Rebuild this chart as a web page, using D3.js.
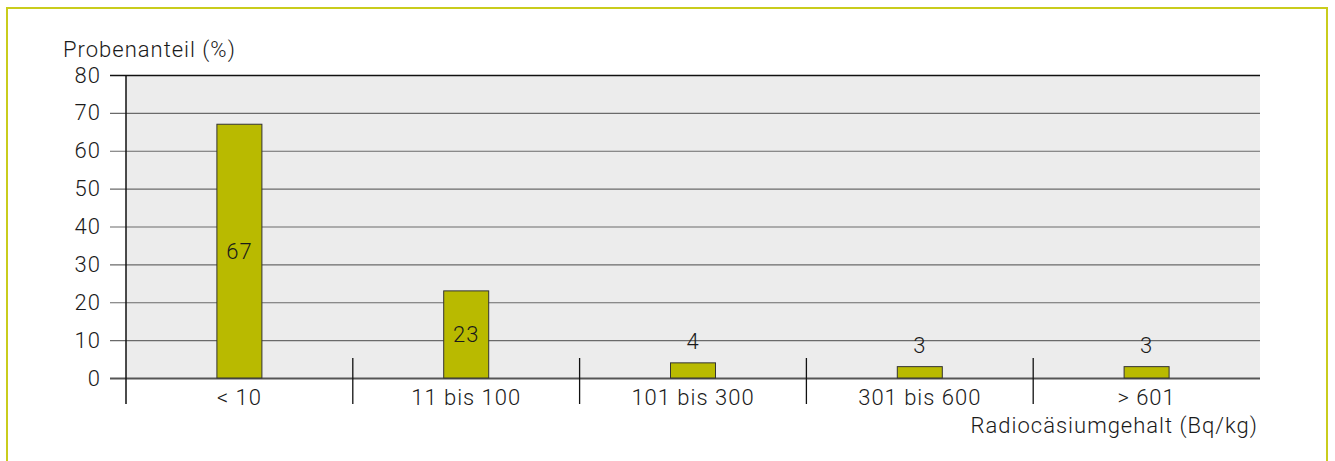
<!DOCTYPE html>
<html><head><meta charset="utf-8">
<script src="https://cdn.jsdelivr.net/npm/d3@7"></script>
<style>
html,body{margin:0;padding:0;background:#fff;}
text{font-family:Roboto,"Liberation Sans",Arial,sans-serif;font-weight:300;fill:#1a1a1a;letter-spacing:1px;}
</style></head>
<body><svg id="c" width="1335" height="461"></svg>
<script>
const categories = ["< 10", "11 bis 100", "101 bis 300", "301 bis 600", "> 601"];
const values = [67, 23, 4, 3, 3];
const yTicks = [0, 10, 20, 30, 40, 50, 60, 70, 80];
const yTitle = "Probenanteil (%)";
const xTitle = "Radiocäsiumgehalt (Bq/kg)";

const svg = d3.select("#c");
// outer frame
svg.append("rect").attr("x", 7).attr("y", 8).attr("width", 1320).attr("height", 470)
  .attr("fill", "none").attr("stroke", "#c9cc1c").attr("stroke-width", 2);

const L = 126, R = 1260, T = 75, B = 378;
const x = d3.scaleBand().domain(categories).range([L, R]).paddingInner(0).paddingOuter(0);
const y = d3.scaleLinear().domain([0, 80]).range([B, T]);

svg.append("rect").attr("x", L).attr("y", T).attr("width", R - L).attr("height", B - T).attr("fill", "#ececec");

// gridlines and ticks
const yAxis = d3.axisLeft(y).tickValues(yTicks).tickSize(-(R - L)).tickPadding(0).tickFormat(d3.format("d"));
const gy = svg.append("g").attr("transform", `translate(${L},0)`).call(yAxis);
gy.select(".domain").remove();
gy.selectAll(".tick line").attr("stroke", d => d === 80 ? "#111" : (d === 0 ? "#555" : "#6a6a6a"))
  .attr("stroke-width", d => d === 80 ? 1.6 : (d === 0 ? 2 : 1.2)).attr("x1", -16);
gy.selectAll(".tick text").attr("x", -25).attr("font-size", 22).attr("fill", "#1a1a1a")
  .style("font-family", "Roboto, 'Liberation Sans', Arial, sans-serif").style("font-weight", 300);

// left axis line
svg.append("line").attr("x1", L).attr("x2", L).attr("y1", T).attr("y2", 404).attr("stroke", "#111").attr("stroke-width", 1.5);

// category separators
const seps = categories.slice(1).map(c => x(c));
svg.selectAll("line.sep").data(seps).enter().append("line").attr("class", "sep")
  .attr("x1", d => d).attr("x2", d => d).attr("y1", 358).attr("y2", 404)
  .attr("stroke", "#111").attr("stroke-width", 1.3);

// bars
const bw = 45;
svg.selectAll("rect.bar").data(values).enter().append("rect").attr("class", "bar")
  .attr("x", (d, i) => x(categories[i]) + x.bandwidth() / 2 - bw / 2)
  .attr("y", d => y(d)).attr("width", bw).attr("height", d => B - y(d))
  .attr("fill", "#b9ba00").attr("stroke", "#333").attr("stroke-width", 1);

// value labels
svg.selectAll("text.val").data(values).enter().append("text").attr("class", "val")
  .attr("x", (d, i) => x(categories[i]) + x.bandwidth() / 2)
  .attr("y", d => (B - y(d) > 40 ? (y(d) + B) / 2 : y(d) - 22) + 8)
  .attr("text-anchor", "middle").attr("font-size", 22).text(d => d);

// category labels
svg.selectAll("text.cat").data(categories).enter().append("text").attr("class", "cat")
  .attr("x", d => x(d) + x.bandwidth() / 2).attr("y", 405)
  .attr("text-anchor", "middle").attr("font-size", 22).text(d => d);

// titles
svg.append("text").attr("x", 63).attr("y", 57).attr("font-size", 22).text(yTitle);
svg.append("text").attr("x", 1258).attr("y", 433).attr("text-anchor", "end").attr("font-size", 22).text(xTitle);
</script></body></html>
